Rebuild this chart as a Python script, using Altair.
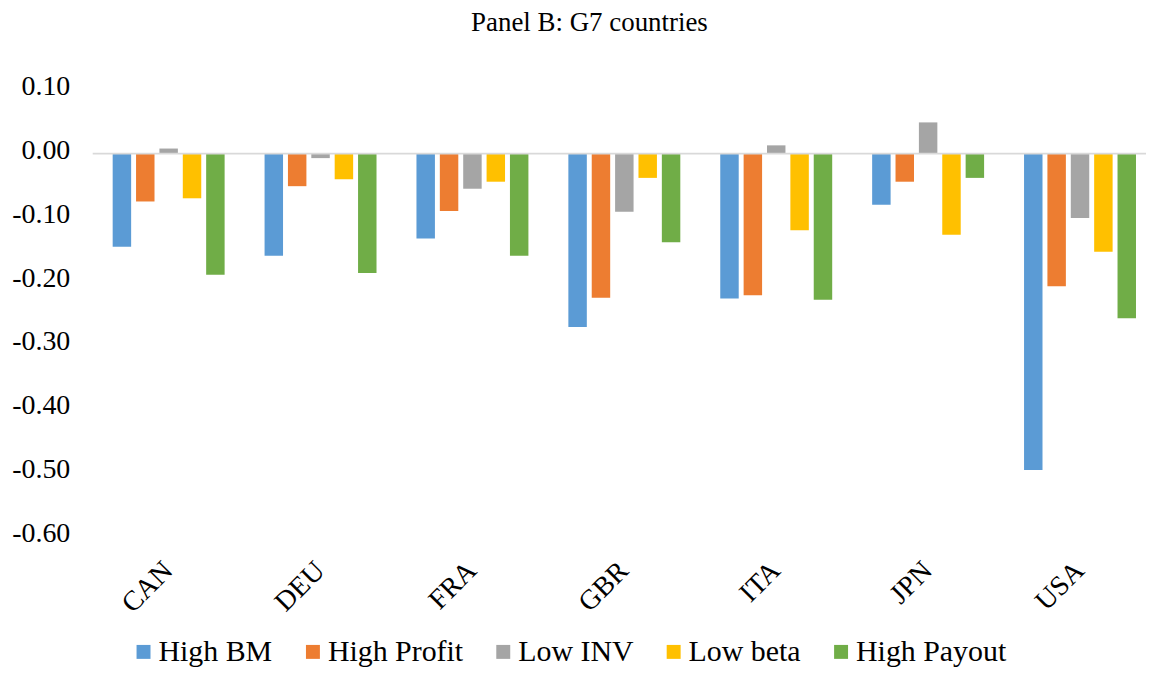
import altair as alt
import pandas as pd

countries = ["CAN", "DEU", "FRA", "GBR", "ITA", "JPN", "USA"]
series_names = ["High BM", "High Profit", "Low INV", "Low beta", "High Payout"]
colors = ["#5B9BD5", "#ED7D31", "#A5A5A5", "#FFC000", "#70AD47"]

high_bm = [-0.146, -0.160, -0.133, -0.272, -0.227, -0.080, -0.496]
high_profit = [-0.075, -0.051, -0.090, -0.226, -0.222, -0.044, -0.208]
low_inv = [0.008, -0.007, -0.055, -0.091, 0.013, 0.049, -0.101]
low_beta = [-0.070, -0.040, -0.044, -0.038, -0.120, -0.127, -0.154]
high_payout = [-0.190, -0.187, -0.160, -0.139, -0.229, -0.038, -0.258]

y_ticks = [0.1, 0.0, -0.1, -0.2, -0.3, -0.4, -0.5, -0.6]

series_values = [high_bm, high_profit, low_inv, low_beta, high_payout]
rows = []
for name, vals in zip(series_names, series_values):
    for c, v in zip(countries, vals):
        rows.append({"country": c, "series": name, "value": v})
df = pd.DataFrame(rows)

FONT = "'Liberation Serif', 'Times New Roman', Times, serif"
W, H = 1057, 448

bars = alt.Chart(df).mark_bar().encode(
    x=alt.X("country:N", sort=countries,
            scale=alt.Scale(range=[0, 1067], paddingInner=0.263, paddingOuter=0.1315),
            axis=alt.Axis(title=None, labelAngle=-45, labelFont=FONT, labelFontSize=28,
                          labelColor="black", labelAlign="right", labelBaseline="middle",
                          labelPadding=30, ticks=False, domain=False, grid=False)),
    xOffset=alt.XOffset("series:N", sort=series_names,
                        scale=alt.Scale(paddingInner=0.21, paddingOuter=0)),
    y=alt.Y("value:Q", scale=alt.Scale(domain=[-0.6, 0.1], nice=False, zero=False),
            axis=alt.Axis(title=None, values=y_ticks,
                          labelExpr="replace(format(datum.value, '.2f'), '\u2212', '-')",
                          labelFont=FONT,
                          labelFontSize=28, labelColor="black", labelPadding=23,
                          labelOffset=-3, ticks=False, domain=False, grid=False)),
    color=alt.Color("series:N", sort=series_names,
                    scale=alt.Scale(domain=series_names, range=colors),
                    legend=alt.Legend(title=None, orient="none", direction="horizontal",
                                      legendX=36, legendY=549, symbolType="square",
                                      symbolSize=196, symbolStrokeWidth=0, symbolOpacity=1,
                                      labelFont=FONT, labelFontSize=30, labelColor="black",
                                      labelOffset=0, columnPadding=25, padding=0,
                                      labelLimit=400)),
)

zero = alt.Chart(pd.DataFrame({"v": [0.0]})).mark_rule(color="#d9d9d9", strokeWidth=1.7).encode(
    y="v:Q",
    x=alt.value(0),
    x2=alt.value(1070),
)

chart = alt.layer(bars, zero).properties(
    width=W,
    height=H,
    title=alt.TitleParams("Panel B: G7 countries", font=FONT, fontSize=27, fontWeight="normal",
                          color="black", anchor="middle", dx=-30, offset=36),
    autosize=alt.AutoSizeParams(type="none"),
    padding={"left": 85, "top": 81, "right": 0, "bottom": 132},
).configure_view(stroke=None)

chart.save("out.html", embed_options={"renderer": "svg", "actions": False})
